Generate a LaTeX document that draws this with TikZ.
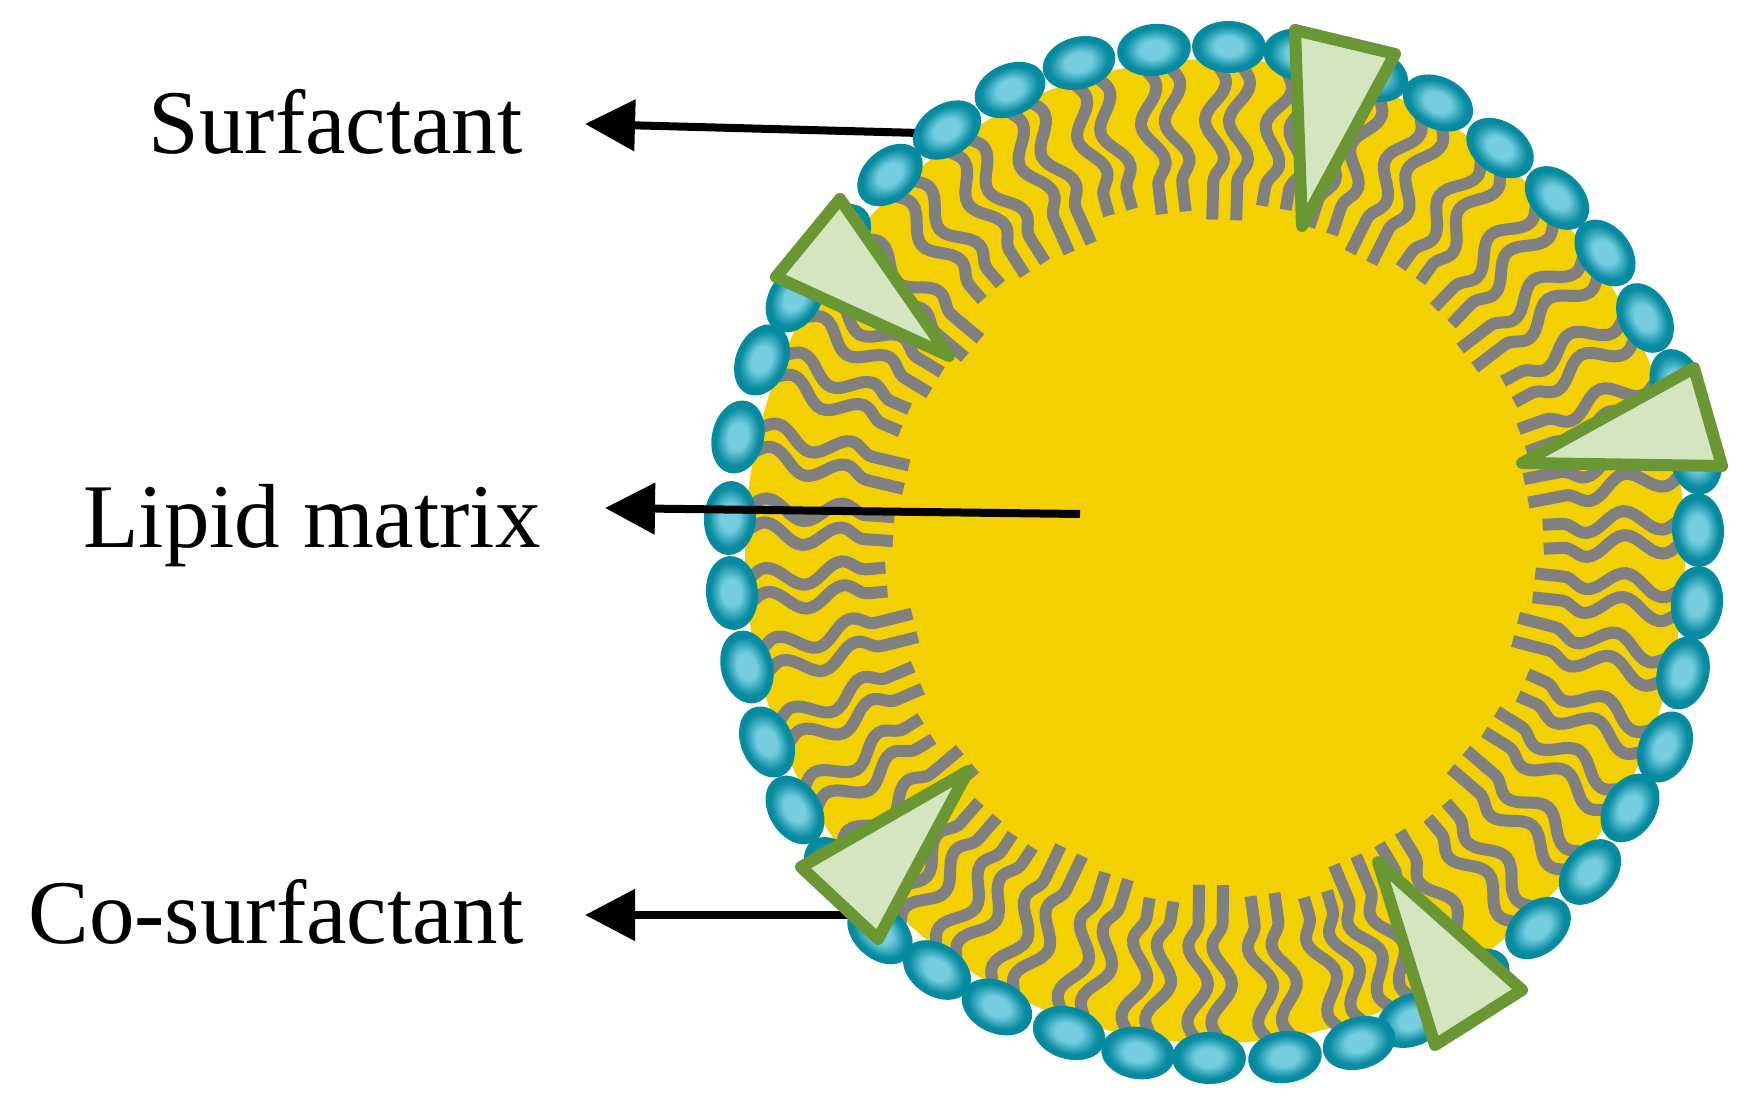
\documentclass[tikz,border=0pt]{standalone}
\usepackage{fontspec}
\setmainfont{Liberation Serif}
\usetikzlibrary{arrows.meta,decorations.pathmorphing,calc}
\definecolor{beadout}{RGB}{6,138,160}
\definecolor{beadin}{RGB}{116,206,224}
\definecolor{core}{RGB}{243,209,0}
\definecolor{tailgray}{RGB}{128,128,128}
\definecolor{trifill}{RGB}{212,230,192}
\definecolor{tristroke}{RGB}{106,150,52}
\begin{document}
\begin{tikzpicture}[x=0.5pt,y=-0.5pt,
  tailline/.style={draw=tailgray, line width=6pt, decorate,
    decoration={snake, amplitude=5pt, segment length=38pt}},
  tri/.style={fill=trifill, draw=tristroke, line width=6pt, line join=round},
  arr/.style={draw=black, line width=4pt, -{Triangle[length=25pt,width=25pt]}},
  lbl/.style={font=\fontsize{45.5}{52}\selectfont, inner sep=0pt, anchor=base east}]
\useasboundingbox (0,0) rectangle (1741,1102);
\def\beadlist{730/518, 738/437, 762/360, 795/298, 840/237, 890/175, 947/130, 1010/90, 1079/63, 1154/50, 1229/47, 1300/55, 1372/75, 1438/103, 1500/148, 1557/198, 1605/253, 1645/318, 1677/385, 1696/458, 1698/530, 1697/603, 1683/673, 1665/747, 1630/808, 1590/872, 1538/928, 1475/978, 1412/1020, 1359/1043, 1285/1057, 1209/1058, 1138/1053, 1069/1033, 997/1007, 937/970, 880/933, 835/870, 795/810, 767/742, 747/667, 732/593}
% lipid core
\fill[core] (1215,551) ellipse [x radius=470, y radius=492];
% tails
\foreach \bx/\by [count=\i] in \beadlist {
  \pgfmathsetmacro\ang{atan2(551-\by,1215-\bx)}
  \pgfmathsetmacro\tang{\ang+90}
  \pgfmathsetmacro\len{155+9*mod(\i,3)}
  \foreach \off in {-12,12} {
    \draw[tailline] ($(\bx,\by)+(\ang:12)+(\tang:\off)$) -- ($(\bx,\by)+(\ang:\len)+(\tang:\off)$);
  }
}
% arrows under the shell
\coordinate (surfA) at (920,133);
\coordinate (surfB) at (585,124);
\coordinate (coA) at (852,915);
\coordinate (coB) at (585,915);
\draw[arr] (surfA) -- (surfB);
\draw[arr] (coA) -- (coB);
% beads
\foreach \bx/\by in \beadlist {
  \pgfmathsetmacro\rang{-atan2(551-\by,1215-\bx)}
  \begin{scope}[shift={(\bx,\by)}, rotate=\rang]
    \foreach \k in {0,...,12} {
      \pgfmathsetmacro\s{1-0.063*\k}
      \pgfmathtruncatemacro\p{max(0,min(100,(0.85-\s)/0.45*100))}
      \fill[beadin!\p!beadout] (0,0) ellipse [x radius=26*\s, y radius=37*\s];
    }
  \end{scope}
}
% co-surfactant triangles
\filldraw[tri] (840,199) -- (776,277) -- (949,356) -- cycle;
\filldraw[tri] (1295,30) -- (1395,54) -- (1302,226) -- cycle;
\filldraw[tri] (1522,463) -- (1694,368) -- (1722,466) -- cycle;
\filldraw[tri] (968,771) -- (801,867) -- (878,939) -- cycle;
\filldraw[tri] (1378,862) -- (1522,990) -- (1435,1045) -- cycle;
% labels
\node[lbl] (surf) at (523,154) {Surfactant};
\node[lbl] (lipid) at (541,547) {Lipid matrix};
\node[lbl] (cosurf) at (524,943) {Co-surfactant};
% lipid matrix arrow on top
\coordinate (lipA) at (1080,514);
\coordinate (lipB) at (605,508);
\draw[arr] (lipA) -- (lipB);
\end{tikzpicture}
\end{document}
